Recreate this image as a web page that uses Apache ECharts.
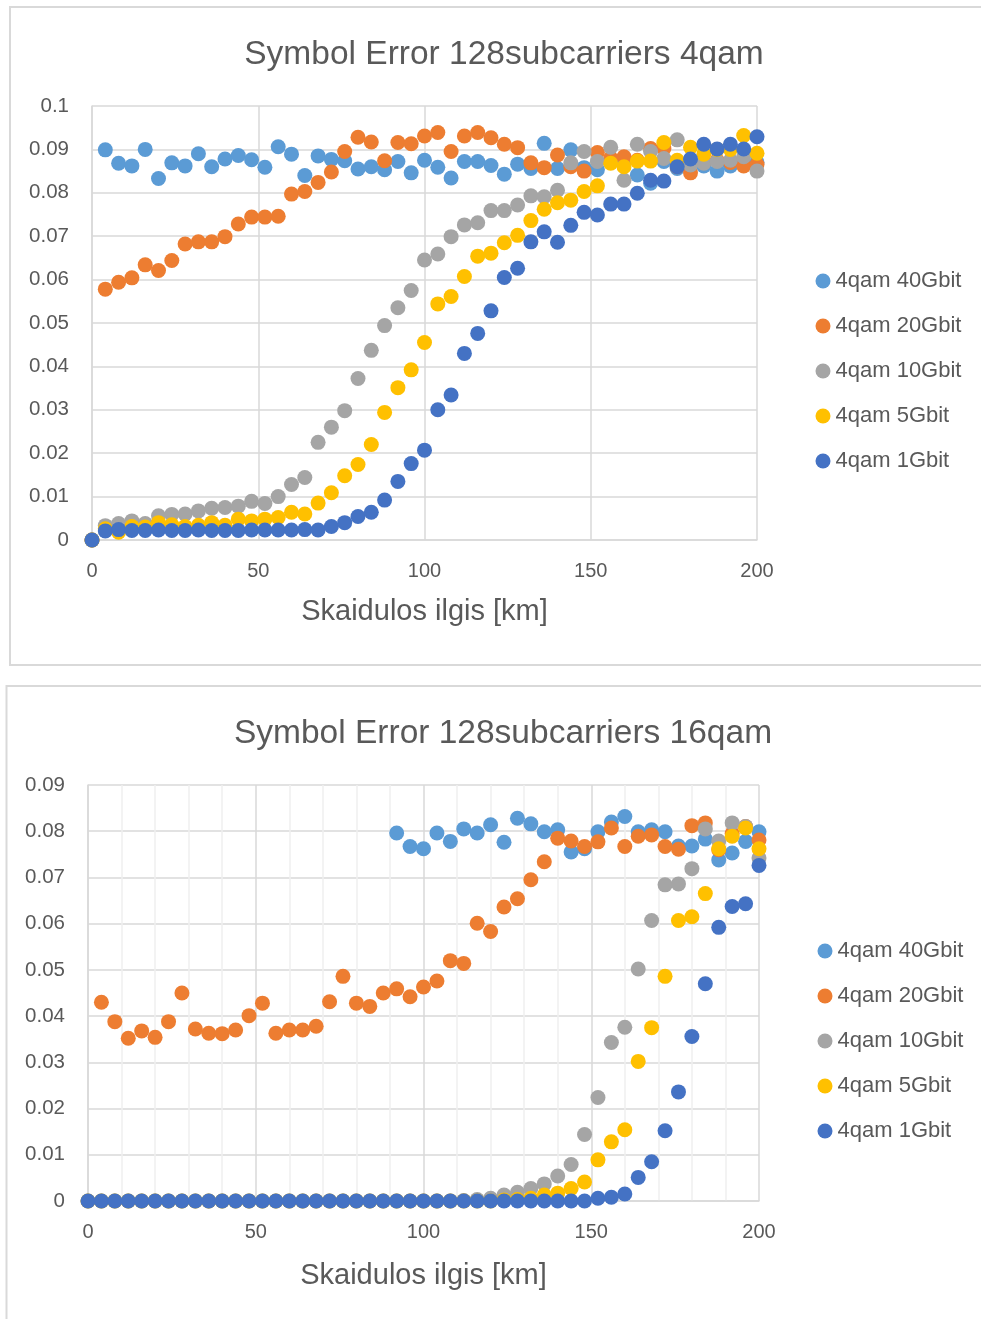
<!DOCTYPE html>
<html>
<head>
<meta charset="utf-8">
<script src="https://cdn.jsdelivr.net/npm/echarts@6/dist/echarts.min.js"></script>
<style>
html,body{margin:0;padding:0;background:#fff;overflow:hidden;}
#c{width:981px;height:1319px;}
</style>
</head>
<body>
<div id="c"></div>
<script>
// Distances (km)
const distances = [0,4,8,12,16,20,24,28,32,36,40,44,48,52,56,60,64,68,72,76,80,84,88,92,96,100,104,108,112,116,120,124,128,132,136,140,144,148,152,156,160,164,168,172,176,180,184,188,192,196,200];
const seriesNames = ['4qam 40Gbit','4qam 20Gbit','4qam 10Gbit','4qam 5Gbit','4qam 1Gbit'];
const titles = ['Symbol Error 128subcarriers 4qam','Symbol Error 128subcarriers 16qam'];
const xAxisName = 'Skaidulos ilgis [km]';

// Chart 1 (4qam)
const c1_40 = [0,0.0899,0.0868,0.0862,0.0900,0.0833,0.0869,0.0862,0.0890,0.0860,0.0878,0.0886,0.0876,0.0859,0.0906,0.0889,0.0840,0.0885,0.0877,0.0874,0.0855,0.0860,0.0853,0.0872,0.0846,0.0875,0.0859,0.0834,0.0872,0.0872,0.0863,0.0843,0.0866,0.0856,0.0914,0.0856,0.0899,0.0858,0.0853,0.0870,0.0870,0.0841,0.0822,0.0872,0.0856,0.0870,0.0862,0.0850,0.0862,0.0870,0.0870];
const c1_20 = [0,0.0578,0.0594,0.0604,0.0634,0.0621,0.0644,0.0682,0.0687,0.0687,0.0699,0.0728,0.0744,0.0744,0.0746,0.0797,0.0803,0.0824,0.0848,0.0895,0.0928,0.0917,0.0874,0.0916,0.0913,0.0931,0.0939,0.0895,0.0931,0.0939,0.0927,0.0912,0.0904,0.0869,0.0858,0.0887,0.0860,0.0850,0.0893,0.0880,0.0883,0.0875,0.0902,0.0902,0.0860,0.0846,0.0870,0.0875,0.0870,0.0862,0.0865];
const c1_10 = [0,0.0033,0.0038,0.0044,0.0038,0.0056,0.0059,0.0060,0.0067,0.0073,0.0075,0.0078,0.0089,0.0084,0.0100,0.0128,0.0144,0.0225,0.0260,0.0298,0.0372,0.0437,0.0494,0.0535,0.0575,0.0645,0.0659,0.0699,0.0726,0.0731,0.0759,0.0759,0.0772,0.0793,0.0791,0.0806,0.0869,0.0895,0.0872,0.0905,0.0829,0.0912,0.0895,0.0879,0.0922,0.0864,0.0868,0.0872,0.0875,0.0883,0.0850];
const c1_5 = [0,0.0026,0.0018,0.0031,0.0030,0.0040,0.0035,0.0031,0.0034,0.0040,0.0034,0.0048,0.0044,0.0048,0.0052,0.0064,0.0060,0.0085,0.0109,0.0148,0.0174,0.0220,0.0294,0.0351,0.0392,0.0455,0.0544,0.0561,0.0607,0.0654,0.0661,0.0685,0.0702,0.0736,0.0762,0.0777,0.0783,0.0803,0.0816,0.0868,0.0860,0.0873,0.0873,0.0916,0.0875,0.0905,0.0889,0.0900,0.0900,0.0932,0.0891];
const c1_1 = [0,0.0021,0.0024,0.0022,0.0022,0.0023,0.0022,0.0022,0.0023,0.0022,0.0022,0.0022,0.0023,0.0023,0.0023,0.0023,0.0024,0.0023,0.0031,0.0040,0.0054,0.0064,0.0092,0.0135,0.0176,0.0207,0.0300,0.0334,0.0430,0.0476,0.0528,0.0605,0.0626,0.0687,0.0710,0.0686,0.0725,0.0755,0.0749,0.0774,0.0774,0.0799,0.0829,0.0827,0.0860,0.0878,0.0912,0.0901,0.0912,0.0901,0.0929];

// Chart 2 (16qam)
const c2_40 = [null,null,null,null,null,null,null,null,null,null,null,null,null,null,null,null,null,null,null,null,null,null,null,0.0796,0.0767,0.0762,0.0796,0.0778,0.0805,0.0796,0.0814,0.0776,0.0828,0.0816,0.0799,0.0803,0.0755,0.0762,0.0799,0.0820,0.0832,0.0799,0.0803,0.0799,0.0768,0.0768,0.0783,0.0738,0.0753,0.0778,0.0799];
const c2_20 = [null,0.0430,0.0388,0.0352,0.0368,0.0354,0.0388,0.0450,0.0372,0.0363,0.0362,0.0370,0.0401,0.0428,0.0363,0.0370,0.0370,0.0378,0.0431,0.0486,0.0428,0.0421,0.0450,0.0459,0.0442,0.0463,0.0476,0.0520,0.0514,0.0601,0.0583,0.0636,0.0654,0.0695,0.0734,0.0785,0.0779,0.0767,0.0777,0.0807,0.0767,0.0789,0.0792,0.0767,0.0761,0.0812,0.0818,0.0760,0.0795,0.0810,0.0781];
const c2_10 = [0,0,0,0,0,0,0,0,0,0,0,0,0,0,0,0,0,0,0,0,0,0,0,0,0,0,0,0,0.0001,0.0003,0.0006,0.0013,0.0019,0.0027,0.0037,0.0054,0.0079,0.0144,0.0224,0.0343,0.0376,0.0502,0.0607,0.0684,0.0686,0.0719,0.0805,0.0779,0.0818,0.0810,0.0742];
const c2_5 = [0,0,0,0,0,0,0,0,0,0,0,0,0,0,0,0,0,0,0,0,0,0,0,0,0,0,0,0,0,0,0,0.0002,0.0003,0.0006,0.0013,0.0017,0.0027,0.0041,0.0089,0.0128,0.0154,0.0302,0.0375,0.0486,0.0607,0.0615,0.0665,0.0762,0.0789,0.0807,0.0762];
const c2_1 = [0,0,0,0,0,0,0,0,0,0,0,0,0,0,0,0,0,0,0,0,0,0,0,0,0,0,0,0,0,0,0,0,0,0,0,0,0,0,0.0006,0.0008,0.0015,0.0051,0.0085,0.0152,0.0236,0.0356,0.0470,0.0592,0.0637,0.0643,0.0726];

const colors = ['#5B9BD5','#ED7D31','#A5A5A5','#FFC000','#4472C4'];
const FONT = 'Liberation Sans';
const TXT = '#595959';
const GRID = '#d9d9d9';

function pairs(arr){ return distances.map((d,i)=>[d, arr[i]]); }

const chart = echarts.init(document.getElementById('c'), null, {renderer:'canvas'});

function xAxisDef(gi, gap, minor){
  return {
    gridIndex: gi, type:'value', min:0, max:200, interval:50,
    name: xAxisName, nameLocation:'middle', nameGap: gap,
    nameTextStyle:{fontFamily:FONT, fontSize:29, color:TXT},
    axisLine:{show:true, lineStyle:{color:GRID, width:1.5}},
    axisTick:{show:false},
    axisLabel:{fontFamily:FONT, fontSize:20, color:TXT, margin:21},
    splitLine:{show:true, lineStyle:{color:GRID, width:1.5}},
    minorTick:{show:minor, splitNumber:5, length:0},
    minorSplitLine:{show:minor, lineStyle:{color:'#f0f0f0', width:1.5}}
  };
}
function yAxisDef(gi, max){
  return {
    gridIndex: gi, type:'value', min:0, max:max, interval:0.01,
    axisLine:{show:true, lineStyle:{color:GRID, width:1.5}},
    axisTick:{show:false},
    axisLabel:{fontFamily:FONT, fontSize:20.5, color:TXT, margin:23},
    splitLine:{show:true, lineStyle:{color:GRID, width:1.5}}
  };
}
function legendDef(left, top){
  return {
    orient:'vertical', left:left, top:top, padding:0, itemGap:23,
    icon:'circle', itemWidth:15, itemHeight:15,
    textStyle:{fontFamily:FONT, fontSize:22, color:TXT, lineHeight:22},
    data: seriesNames
  };
}

const c1 = [c1_40,c1_20,c1_10,c1_5,c1_1];
const c2 = [c2_40,c2_20,c2_10,c2_5,c2_1];
const series = [];
[c1,c2].forEach((set,gi)=>{
  set.forEach((arr,k)=>{
    series.push({
      type:'scatter', name: seriesNames[k], xAxisIndex:gi, yAxisIndex:gi,
      data: pairs(arr), symbol:'circle', symbolSize:15,
      itemStyle:{color:colors[k], opacity:1},
      emphasis:{disabled:true}, animation:false
    });
  });
});

chart.setOption({
  animation:false,
  color: colors,
  title:[
    {text:titles[0], left:499, top:33, textAlign:'center', textStyle:{fontFamily:FONT, fontSize:33.5, fontWeight:'normal', color:TXT}},
    {text:titles[1], left:498, top:712, textAlign:'center', textStyle:{fontFamily:FONT, fontSize:33.5, fontWeight:'normal', color:TXT}}
  ],
  legend:[legendDef(815.5, 270), legendDef(817.5, 940)],
  grid:[
    {left:92, top:106, width:665, height:434},
    {left:88, top:785, width:671, height:416}
  ],
  xAxis:[xAxisDef(0, 57, false), xAxisDef(1, 60, true)],
  yAxis:[yAxisDef(0, 0.1), yAxisDef(1, 0.09)],
  graphic:[
    {type:'rect', shape:{x:10, y:7, width:1000, height:658}, style:{fill:'none', stroke:GRID, lineWidth:2}, silent:true},
    {type:'rect', shape:{x:6.5, y:686, width:1000, height:700}, style:{fill:'none', stroke:GRID, lineWidth:2}, silent:true}
  ],
  series: series
});
</script>
</body>
</html>
